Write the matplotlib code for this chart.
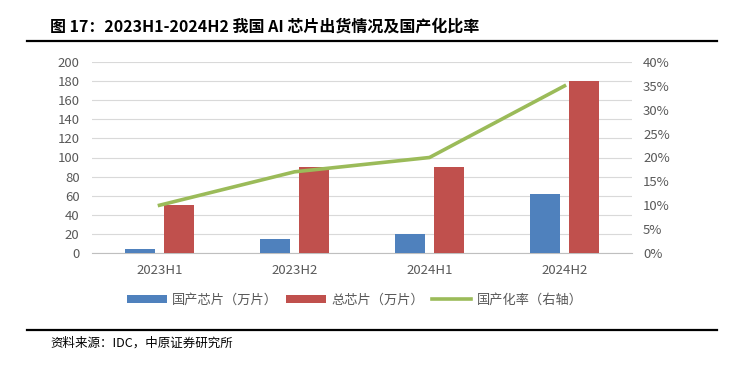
import numpy as np
import matplotlib.pyplot as plt
from matplotlib.lines import Line2D

plt.rcParams['font.family'] = ['Noto Sans CJK SC', 'DejaVu Sans']

# data
periods = ["2023H1", "2023H2", "2024H1", "2024H2"]
domestic_chips = [4, 15, 20, 62]      # 国产芯片（万片）
total_chips = [50, 90, 90, 180]       # 总芯片（万片）
domestic_rate = [0.10, 0.17, 0.20, 0.35]  # 国产化率（右轴）

blue = "#4F81BD"
red = "#C0504D"
green = "#9BBB59"
grey_txt = "#595959"
grid_col = "#D9D9D9"

fig = plt.figure(figsize=(7.49, 3.70), dpi=100)

# title and rules
fig.text(50/749, 1 - 27/370, "图 17：2023H1-2024H2 我国 AI 芯片出货情况及国产化比率",
         fontsize=11.5, fontweight="bold", va="center", ha="left", color="black")
fig.add_artist(Line2D([27/749, 717/749], [1 - 41/370, 1 - 41/370], color="black", lw=1.6))
fig.add_artist(Line2D([27/749, 717/749], [1 - 330/370, 1 - 330/370], color="black", lw=1.6))
fig.text(50/749, 1 - 343/370, "资料来源：IDC，中原证券研究所", fontsize=9,
         va="center", ha="left", color="black")

ax = fig.add_axes([92/749, 1 - 253/370, 540/749, 191/370])
x = np.arange(len(periods))
w = 0.22
ax.bar(x - 0.145, domestic_chips, w, color=blue, label="国产芯片（万片）", zorder=3)
ax.bar(x + 0.145, total_chips, w, color=red, label="总芯片（万片）", zorder=3)
ax.set_xlim(-0.5, 3.5)
ax.set_ylim(0, 200)
ax.set_yticks(range(0, 201, 20))
ax.grid(axis="y", color=grid_col, lw=0.8, zorder=0)
for s in ["top", "right", "left"]:
    ax.spines[s].set_visible(False)
ax.spines["bottom"].set_color("#BFBFBF")
ax.set_xticks(x)
ax.set_xticklabels(periods)
ax.tick_params(axis="both", length=0, labelsize=9.5, colors=grey_txt)
ax.tick_params(axis="x", pad=8)
ax.tick_params(axis="y", pad=9)

ax2 = ax.twinx()
ax2.plot(x, domestic_rate, color=green, lw=2.6, label="国产化率（右轴）", zorder=4)
ax2.set_ylim(0, 0.40)
ax2.set_yticks(np.arange(0, 0.401, 0.05))
ax2.set_yticklabels([f"{int(round(v*100))}%" for v in np.arange(0, 0.401, 0.05)])
ax2.tick_params(axis="y", length=0, labelsize=9.5, colors=grey_txt, pad=8)
for s in ax2.spines.values():
    s.set_visible(False)

h1, l1 = ax.get_legend_handles_labels()
h2, l2 = ax2.get_legend_handles_labels()
leg = fig.legend(h1 + h2, l1 + l2, loc="center", bbox_to_anchor=(355/749, 1 - 300/370),
                 ncol=3, frameon=False, fontsize=9.5, handlelength=3.0, handleheight=0.6,
                 columnspacing=0.6, handletextpad=0.4)
for t in leg.get_texts():
    t.set_color(grey_txt)

fig.savefig("out.png", dpi=100)
